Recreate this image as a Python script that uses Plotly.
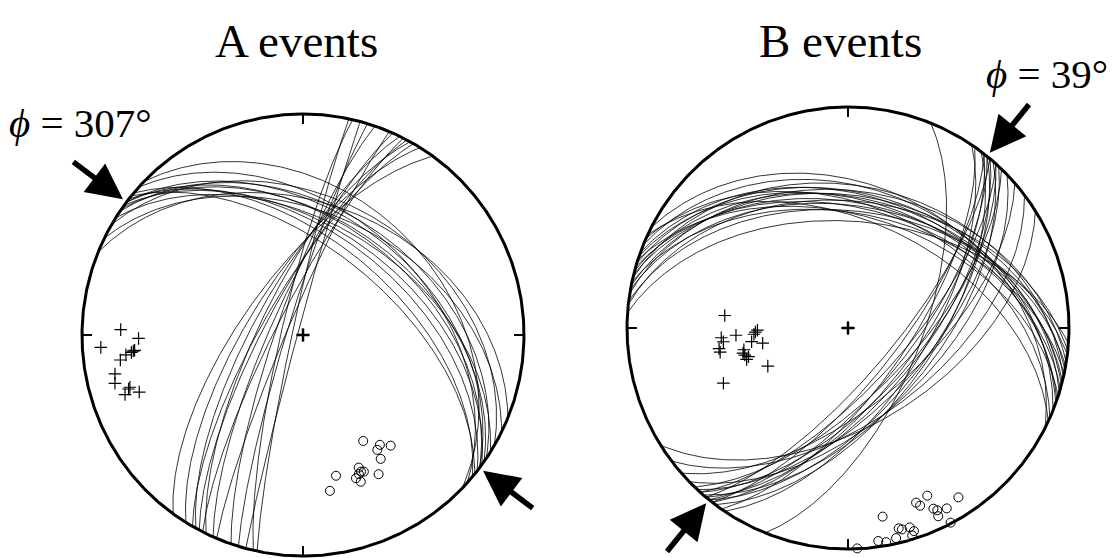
import numpy as np
import plotly.graph_objects as go

W, H = 1112, 558

# ---------------- A events ----------------
a_phi = 307
# nodal plane set 1 (NW-SE striking, dipping NE): strike (right-hand rule), dip
a_np1_strike = [292, 296, 300, 302, 304, 305, 306, 307, 307, 308, 309, 310, 312, 314]
a_np1_dip = [40, 44, 38, 48, 42, 46, 50, 44, 47, 52, 58, 55, 43, 36]
# nodal plane set 2 (steep, NNE-SSW striking, dipping WNW)
a_np2_strike = [192, 193, 195, 197, 199, 203, 204, 206, 207, 208, 209, 210, 212, 216]
a_np2_dip = [86, 82, 88, 84, 80, 84, 78, 74, 80, 76, 72, 75, 70, 68]
# T axes (crosses) and P axes (circles): trend, plunge
a_t_trend = [271.7, 268.8, 266.5, 264.6, 264.2, 263.6, 262.2, 258.3, 255.6, 253.2, 252.8, 251.5, 250.8, 264.8]
a_t_plunge = [18.6, 26.5, 9.2, 23.9, 23.0, 20.5, 17.7, 14.2, 13.2, 19.3, 18.5, 16.2, 22.6, 24.5]
a_p_trend = [150.4, 145.0, 141.6, 147.1, 147.9, 166.8, 157.2, 157.0, 156.0, 159.7, 158.5, 151.5, 170.2, 158.1]
a_p_plunge = [44.1, 39.2, 36.3, 38.1, 34.2, 34.9, 35.2, 33.3, 32.8, 31.5, 29.4, 29.1, 29.2, 32.7]

# ---------------- B events ----------------
b_phi = 39
b_np1_strike = [274, 276, 277, 279, 280, 281, 282, 283, 284, 285, 286, 287, 288, 289, 290, 292, 294, 295, 297]
b_np1_dip = [50, 42, 46, 38, 44, 40, 47, 36, 43, 41, 45, 39, 48, 42, 40, 37, 44, 50, 36]
b_np2_strike = [34, 35, 37, 38, 38, 39, 39, 40, 40, 41, 42, 42, 43, 44, 46, 49, 53, 58, 22]
b_np2_dip = [62, 68, 59, 65, 71, 60, 67, 63, 73, 58, 64, 69, 61, 66, 57, 62, 56, 54, 63]
b_t_trend = [275.8, 266.3, 265.6, 263.7, 260.9, 259.3, 268.6, 266.2, 261.9, 259.9, 258.2, 256.5, 253.9, 252.8, 244.6, 246.1, 267.5, 255.3]
b_t_plunge = [43.3, 47.9, 42.0, 42.7, 40.6, 40.8, 56.3, 54.9, 53.7, 57.8, 50.2, 49.6, 51.3, 50.3, 57.0, 38.3, 55.5, 50.1]
b_p_trend = [154.7, 146.9, 158.7, 157.9, 154.7, 153.9, 154.4, 151.3, 169.6, 165.8, 165.0, 162.8, 162.0, 162.8, 167.1, 171.9, 169.9, 152.2, 177.6]
b_p_plunge = [17.2, 9.4, 16.3, 14.3, 10.5, 9.0, 6.2, 7.7, 14.3, 7.2, 6.3, 6.2, 3.8, 2.0, 2.8, 3.0, 1.8, 0.5, 0.2]

# net centres and radius on the page (px)
A_CENTER = (303, 335)
B_CENTER = (848, 328)
RADIUS = 221
PAD = 1.06

FONT = "Liberation Serif, Times New Roman, serif"


def project(trend, plunge):
    """Lower-hemisphere equal-area (Schmidt) projection."""
    t = np.radians(np.asarray(trend, dtype=float))
    p = np.radians(np.asarray(plunge, dtype=float))
    r = np.sqrt(2.0) * np.sin((np.pi / 2 - p) / 2)
    return r * np.sin(t), r * np.cos(t)


def great_circle(strike, dip, n=200):
    s = np.radians(strike)
    d = np.radians(dip)
    t = np.linspace(0, np.pi, n)
    u = np.array([np.sin(s), np.cos(s), 0.0])
    dd = s + np.pi / 2
    v = np.array([np.sin(dd) * np.cos(d), np.cos(dd) * np.cos(d), np.sin(d)])
    vec = np.outer(np.cos(t), u) + np.outer(np.sin(t), v)
    e, nn, dn = vec.T
    plunge = np.degrees(np.arcsin(np.clip(dn, -1, 1)))
    trend = np.degrees(np.arctan2(e, nn))
    return project(trend, plunge)


def planes_trace(strikes, dips, xa, ya):
    xs, ys = [], []
    for s, d in zip(strikes, dips):
        x, y = great_circle(s, d)
        xs += list(x) + [None]
        ys += list(y) + [None]
    return go.Scatter(x=xs, y=ys, mode="lines", xaxis=xa, yaxis=ya,
                      line=dict(color="black", width=0.8), hoverinfo="skip",
                      showlegend=False)


fig = go.Figure()
annotations = []


def clamp(v):
    return float(min(1.0, max(0.0, round(v, 6))))


def add_net(idx, center, np1s, np1d, np2s, np2d, tt, tp, pt, pp, title, phi, label_xy, title_x):
    xa = "x" if idx == 1 else "x%d" % idx
    ya = "y" if idx == 1 else "y%d" % idx
    cx, cy = center
    R = RADIUS
    ylo = max(-PAD, -(H - cy) / R)
    xdom = [clamp((cx - PAD * R) / W), clamp((cx + PAD * R) / W)]
    ydom = [clamp((H - cy + ylo * R) / H), clamp((H - cy + PAD * R) / H)]
    key = "" if idx == 1 else str(idx)
    fig.layout["xaxis" + key] = dict(domain=xdom, range=[-PAD, PAD], visible=False,
                                     anchor=ya, fixedrange=True)
    fig.layout["yaxis" + key] = dict(domain=ydom, range=[ylo, PAD], visible=False,
                                     anchor=xa, fixedrange=True)

    fig.add_trace(planes_trace(np1s, np1d, xa, ya))
    fig.add_trace(planes_trace(np2s, np2d, xa, ya))

    # primitive circle
    th = np.linspace(0, 2 * np.pi, 721)
    fig.add_trace(go.Scatter(x=np.sin(th), y=np.cos(th), mode="lines", xaxis=xa, yaxis=ya,
                             line=dict(color="black", width=3), hoverinfo="skip",
                             showlegend=False))
    # N/E/S/W ticks and centre cross
    tx, ty = [], []
    for az in (0, 90, 180, 270):
        a = np.radians(az)
        tx += [np.sin(a), 0.955 * np.sin(a), None]
        ty += [np.cos(a), 0.955 * np.cos(a), None]
    fig.add_trace(go.Scatter(x=tx, y=ty, mode="lines", xaxis=xa, yaxis=ya,
                             line=dict(color="black", width=2), hoverinfo="skip",
                             showlegend=False))
    c = 0.03
    fig.add_trace(go.Scatter(x=[-c, c, None, 0, 0], y=[0, 0, None, -c, c], mode="lines",
                             xaxis=xa, yaxis=ya, line=dict(color="black", width=2.5),
                             hoverinfo="skip", showlegend=False))

    # T axes
    x, y = project(tt, tp)
    fig.add_trace(go.Scatter(x=x, y=y, mode="markers", xaxis=xa, yaxis=ya,
                             marker=dict(symbol="cross-thin", size=9, color="black",
                                         line=dict(color="black", width=1.2)),
                             cliponaxis=False, showlegend=False))
    # P axes
    x, y = project(pt, pp)
    fig.add_trace(go.Scatter(x=x, y=y, mode="markers", xaxis=xa, yaxis=ya,
                             marker=dict(symbol="circle-open", size=9, color="black",
                                         line=dict(color="black", width=1)),
                             cliponaxis=False, showlegend=False))

    # arrows marking the azimuth phi on both sides of the net
    for az in (phi, phi + 180):
        a = np.radians(az)
        annotations.append(dict(
            x=1.02 * np.sin(a), y=1.02 * np.cos(a),
            ax=1.31 * np.sin(a), ay=1.31 * np.cos(a),
            xref=xa, yref=ya, axref=xa, ayref=ya,
            text="", showarrow=True, arrowhead=2, arrowsize=1.3, arrowwidth=5.5,
            arrowcolor="black", standoff=0))

    annotations.append(dict(x=title_x / W, y=1 - 41 / H, xref="paper", yref="paper",
                            text=title, showarrow=False, xanchor="center", yanchor="middle",
                            font=dict(family=FONT, size=47, color="black")))
    lx, ly = label_xy
    annotations.append(dict(x=lx / W, y=1 - ly / H, xref="paper", yref="paper",
                            text="<i>\u03d5</i> = %d\u00b0" % phi, showarrow=False,
                            xanchor="left", yanchor="middle",
                            font=dict(family=FONT, size=41, color="black")))


add_net(1, A_CENTER, a_np1_strike, a_np1_dip, a_np2_strike, a_np2_dip,
        a_t_trend, a_t_plunge, a_p_trend, a_p_plunge, "A events", a_phi, (7, 123), 296)
add_net(2, B_CENTER, b_np1_strike, b_np1_dip, b_np2_strike, b_np2_dip,
        b_t_trend, b_t_plunge, b_p_trend, b_p_plunge, "B events", b_phi, (984, 74), 840)

fig.update_layout(width=W, height=H, margin=dict(l=0, r=0, t=0, b=0),
                  paper_bgcolor="white", plot_bgcolor="white",
                  annotations=annotations, showlegend=False)

fig.write_html("out.html")
